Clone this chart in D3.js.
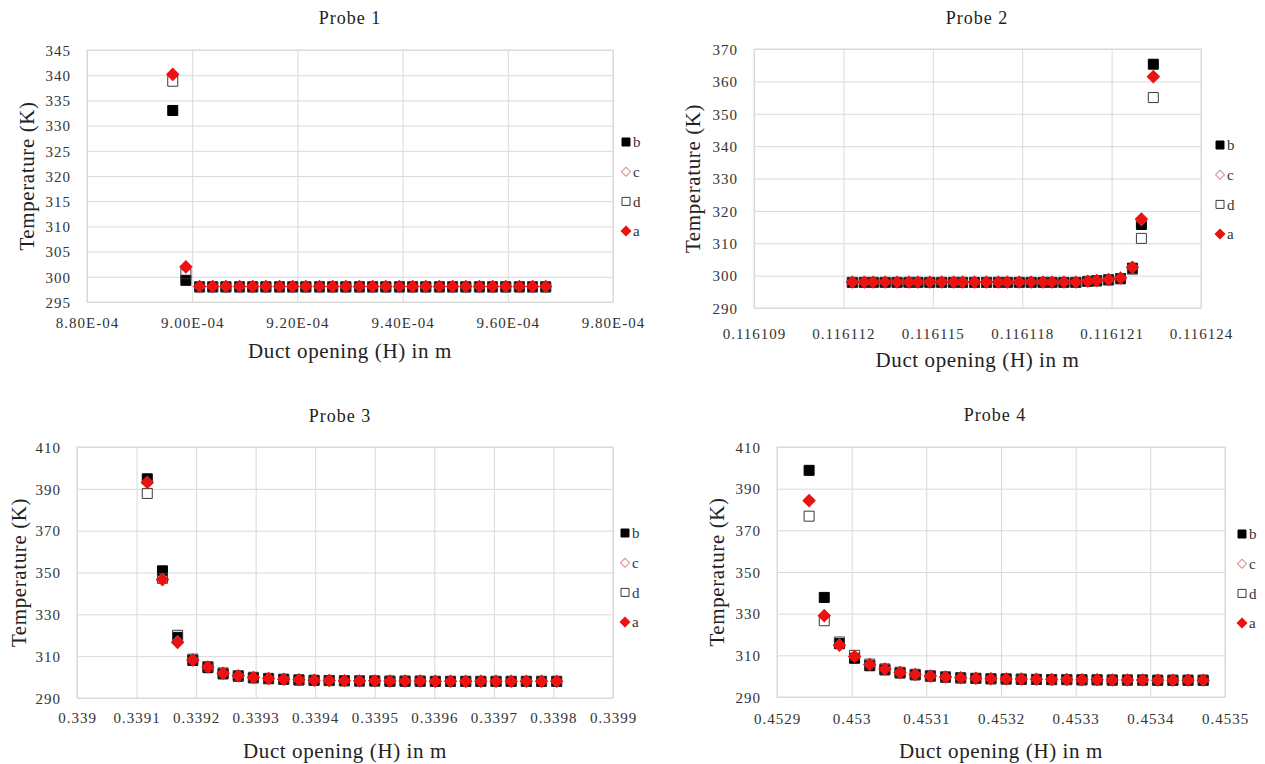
<!DOCTYPE html>
<html>
<head>
<meta charset="utf-8">
<script src="https://cdn.jsdelivr.net/npm/d3@7"></script>
<style>
  *{box-sizing: border-box;}
  body{ margin: 0; padding: 0; background: #fff; }
  svg{ display: block; }
  svg text{ font-family: "Liberation Serif", "DejaVu Serif", serif; }
</style>
</head>
<body>
<svg id="chart" width="1265" height="764"></svg>
<script>
// ---- data ----
const seriesNames = ['b', 'c', 'd', 'a'];

// Probe 1
const p1H = [8.963e-4, 8.988e-4, 9.014e-4, 9.039e-4, 9.064e-4, 9.090e-4, 9.115e-4, 9.140e-4, 9.166e-4, 9.191e-4,
             9.216e-4, 9.242e-4, 9.267e-4, 9.292e-4, 9.318e-4, 9.343e-4, 9.368e-4, 9.394e-4, 9.419e-4, 9.444e-4,
             9.470e-4, 9.495e-4, 9.520e-4, 9.546e-4, 9.571e-4, 9.596e-4, 9.622e-4, 9.647e-4, 9.672e-4];
const p1b = [333.0, 299.3, 298.0, 298.0, 298.0, 298.0, 298.0, 298.0, 298.0, 298.0,
             298.0, 298.0, 298.0, 298.0, 298.0, 298.0, 298.0, 298.0, 298.0, 298.0,
             298.0, 298.0, 298.0, 298.0, 298.0, 298.0, 298.0, 298.0, 298.0];
const p1c = [340.0, 301.8, 298.1, 298.1, 298.1, 298.1, 298.1, 298.1, 298.1, 298.1,
             298.1, 298.1, 298.1, 298.1, 298.1, 298.1, 298.1, 298.1, 298.1, 298.1,
             298.1, 298.1, 298.1, 298.1, 298.1, 298.1, 298.1, 298.1, 298.1];
const p1d = [338.8, 300.6, 298.0, 298.0, 298.0, 298.0, 298.0, 298.0, 298.0, 298.0,
             298.0, 298.0, 298.0, 298.0, 298.0, 298.0, 298.0, 298.0, 298.0, 298.0,
             298.0, 298.0, 298.0, 298.0, 298.0, 298.0, 298.0, 298.0, 298.0];
const p1a = [340.2, 302.0, 298.1, 298.1, 298.1, 298.1, 298.1, 298.1, 298.1, 298.1,
             298.1, 298.1, 298.1, 298.1, 298.1, 298.1, 298.1, 298.1, 298.1, 298.1,
             298.1, 298.1, 298.1, 298.1, 298.1, 298.1, 298.1, 298.1, 298.1];
const p1XTicks = [8.8e-4, 9.0e-4, 9.2e-4, 9.4e-4, 9.6e-4, 9.8e-4];
const p1XLabels = ['8.80E-04', '9.00E-04', '9.20E-04', '9.40E-04', '9.60E-04', '9.80E-04'];
const p1YTicks = [295, 300, 305, 310, 315, 320, 325, 330, 335, 340, 345];

// Probe 2
const p2H = [0.1161123, 0.1161127, 0.1161130, 0.1161134, 0.1161138, 0.1161142, 0.1161145, 0.1161149, 0.1161153, 0.1161157,
             0.1161160, 0.1161164, 0.1161168, 0.1161172, 0.1161175, 0.1161179, 0.1161183, 0.1161187, 0.1161190, 0.1161194,
             0.1161198, 0.1161202, 0.1161205, 0.1161209, 0.1161213, 0.1161217, 0.1161220, 0.1161224];
const p2b = [297.9, 297.9, 297.9, 297.9, 297.9, 297.9, 297.9, 297.9, 297.9, 297.9,
             297.9, 297.9, 297.9, 297.9, 297.9, 297.9, 297.9, 297.9, 297.9, 297.9,
             297.9, 298.2, 298.4, 298.7, 299.1, 302.3, 315.8, 365.3];
const p2c = [298.0, 298.0, 298.0, 298.0, 298.0, 298.0, 298.0, 298.0, 298.0, 298.0,
             298.0, 298.0, 298.0, 298.0, 298.0, 298.0, 298.0, 298.0, 298.0, 298.0,
             298.0, 298.3, 298.5, 298.8, 299.3, 302.5, 317.2, 361.2];
const p2d = [297.9, 297.9, 297.9, 297.9, 297.9, 297.9, 297.9, 297.9, 297.9, 297.9,
             297.9, 297.9, 297.9, 297.9, 297.9, 297.9, 297.9, 297.9, 297.9, 297.9,
             297.9, 298.2, 298.4, 298.7, 299.0, 302.0, 311.5, 355.0];
const p2a = [298.0, 298.0, 298.0, 298.0, 298.0, 298.0, 298.0, 298.0, 298.0, 298.0,
             298.0, 298.0, 298.0, 298.0, 298.0, 298.0, 298.0, 298.0, 298.0, 298.0,
             298.0, 298.3, 298.5, 298.8, 299.3, 302.6, 317.5, 361.5];
const p2XTicks = [0.116109, 0.116112, 0.116115, 0.116118, 0.116121, 0.116124];
const p2XLabels = ['0.116109', '0.116112', '0.116115', '0.116118', '0.116121', '0.116124'];
const p2YTicks = [290, 300, 310, 320, 330, 340, 350, 360, 370];

// Probe 3
const p3H = [0.3391180, 0.3391435, 0.3391689, 0.3391944, 0.3392198, 0.3392453, 0.3392708, 0.3392962, 0.3393217, 0.3393471,
             0.3393726, 0.3393981, 0.3394235, 0.3394490, 0.3394744, 0.3394999, 0.3395254, 0.3395508, 0.3395763, 0.3396017,
             0.3396272, 0.3396527, 0.3396781, 0.3397036, 0.3397290, 0.3397545, 0.3397800, 0.3398054];
const p3b = [394.8, 350.8, 319.0, 308.0, 304.5, 301.5, 300.4, 299.6, 299.2, 298.9,
             298.6, 298.4, 298.3, 298.2, 298.1, 298.1, 298.0, 298.0, 298.0, 297.9,
             297.9, 297.9, 297.9, 297.9, 297.9, 297.9, 297.9, 297.9];
const p3c = [393.2, 347.0, 317.0, 308.2, 304.8, 301.8, 300.6, 299.8, 299.3, 299.0,
             298.7, 298.5, 298.4, 298.3, 298.2, 298.2, 298.1, 298.1, 298.1, 298.0,
             298.0, 298.0, 298.0, 298.0, 298.0, 298.0, 298.0, 298.0];
const p3d = [387.8, 347.2, 320.0, 308.6, 305.0, 302.0, 300.7, 299.9, 299.4, 299.0,
             298.7, 298.5, 298.4, 298.3, 298.2, 298.2, 298.1, 298.1, 298.1, 298.0,
             298.0, 298.0, 298.0, 298.0, 298.0, 298.0, 298.0, 298.0];
const p3a = [393.0, 346.5, 316.5, 308.2, 304.8, 301.8, 300.6, 299.8, 299.3, 299.0,
             298.7, 298.5, 298.4, 298.3, 298.2, 298.2, 298.1, 298.1, 298.1, 298.0,
             298.0, 298.0, 298.0, 298.0, 298.0, 298.0, 298.0, 298.0];
const p3XTicks = [0.3390, 0.3391, 0.3392, 0.3393, 0.3394, 0.3395, 0.3396, 0.3397, 0.3398, 0.3399];
const p3XLabels = ['0.339', '0.3391', '0.3392', '0.3393', '0.3394', '0.3395', '0.3396', '0.3397', '0.3398', '0.3399'];
const p3YTicks = [290, 310, 330, 350, 370, 390, 410];

// Probe 4
const p4H = [0.4529430, 0.4529633, 0.4529836, 0.4530039, 0.4530242, 0.4530445, 0.4530648, 0.4530851, 0.4531054, 0.4531257,
             0.4531460, 0.4531663, 0.4531866, 0.4532069, 0.4532272, 0.4532475, 0.4532678, 0.4532881, 0.4533084, 0.4533287,
             0.4533490, 0.4533693, 0.4533896, 0.4534099, 0.4534302, 0.4534505, 0.4534708];
const p4b = [398.8, 337.8, 315.6, 308.6, 305.0, 303.0, 301.5, 300.6, 300.0, 299.5,
             299.1, 298.9, 298.7, 298.6, 298.5, 298.4, 298.3, 298.3, 298.2, 298.2,
             298.1, 298.1, 298.1, 298.0, 298.0, 298.0, 298.0];
const p4c = [384.0, 329.3, 315.0, 309.6, 305.6, 303.4, 301.8, 300.8, 300.1, 299.6,
             299.2, 299.0, 298.8, 298.7, 298.6, 298.5, 298.4, 298.4, 298.3, 298.3,
             298.2, 298.2, 298.2, 298.1, 298.1, 298.1, 298.1];
const p4d = [376.8, 326.6, 316.4, 310.0, 305.8, 303.5, 301.9, 300.9, 300.2, 299.7,
             299.3, 299.0, 298.8, 298.7, 298.6, 298.5, 298.4, 298.4, 298.3, 298.3,
             298.2, 298.2, 298.2, 298.1, 298.1, 298.1, 298.1];
const p4a = [384.3, 329.0, 314.8, 309.5, 305.6, 303.4, 301.8, 300.8, 300.1, 299.6,
             299.2, 299.0, 298.8, 298.7, 298.6, 298.5, 298.4, 298.4, 298.3, 298.3,
             298.2, 298.2, 298.2, 298.1, 298.1, 298.1, 298.1];
const p4XTicks = [0.4529, 0.4530, 0.4531, 0.4532, 0.4533, 0.4534, 0.4535];
const p4XLabels = ['0.4529', '0.453', '0.4531', '0.4532', '0.4533', '0.4534', '0.4535'];
const p4YTicks = [290, 310, 330, 350, 370, 390, 410];

// ---- layout / style ----
const panels = [
  { title: 'Probe 1', H: p1H, vals: { b: p1b, c: p1c, d: p1d, a: p1a }, xt: p1XTicks, xl: p1XLabels, yt: p1YTicks,
    box: { l: 87, t: 50, r: 613, b: 302 }, titleY: 24, titleX: 350, xTickPad: 15, xTitleY: 358, yTitleX: 27, leg: [626, 142] },
  { title: 'Probe 2', H: p2H, vals: { b: p2b, c: p2c, d: p2d, a: p2a }, xt: p2XTicks, xl: p2XLabels, yt: p2YTicks,
    box: { l: 754, t: 49, r: 1201, b: 308 }, titleY: 24, titleX: 977, xTickPad: 20, xTitleY: 367, yTitleX: 693, leg: [1220, 145] },
  { title: 'Probe 3', H: p3H, vals: { b: p3b, c: p3c, d: p3d, a: p3a }, xt: p3XTicks, xl: p3XLabels, yt: p3YTicks,
    box: { l: 77, t: 447, r: 613, b: 698 }, titleY: 422, titleX: 340, xTickPad: 14, xTitleY: 758, yTitleX: 19, leg: [625, 533] },
  { title: 'Probe 4', H: p4H, vals: { b: p4b, c: p4c, d: p4d, a: p4a }, xt: p4XTicks, xl: p4XLabels, yt: p4YTicks,
    box: { l: 777, t: 447, r: 1225, b: 697 }, titleY: 421, titleX: 995, xTickPad: 16, xTitleY: 758, yTitleX: 717, leg: [1242, 534] }
];

const markers = {
  b: { shape: 'square', size: 10, fill: '#000', stroke: '#000' },
  c: { shape: 'diamond', size: 8, fill: 'none', stroke: '#d98c8c' },
  d: { shape: 'square', size: 10, fill: 'none', stroke: '#3a3a3a' },
  a: { shape: 'diamond', size: 8.5, fill: '#ee1111', stroke: '#ee1111' }
};
const gridColor = '#d9d9d9';
const serif = '"Liberation Serif", "DejaVu Serif", serif';

const svg = d3.select('#chart');

function symbolPath(m, scale) {
  let s = m.size * scale;
  return d3.symbol(d3.symbolSquare, s * s)();
}

panels.forEach(p => {
  let { l, t, r, b } = p.box;
  let x = d3.scaleLinear().domain([p.xt[0], p.xt[p.xt.length - 1]]).range([l, r]);
  let y = d3.scaleLinear().domain([p.yt[0], p.yt[p.yt.length - 1]]).range([b, t]);
  let g = svg.append('g');

  // gridlines + tick labels
  let gy = g.append('g')
    .attr('transform', `translate(${l},0)`)
    .call(d3.axisLeft(y).tickValues(p.yt).tickSize(-(r - l)).tickPadding(16));
  let gx = g.append('g')
    .attr('transform', `translate(0,${b})`)
    .call(d3.axisBottom(x).tickValues(p.xt).tickSize(-(b - t)).tickPadding(p.xTickPad)
      .tickFormat((d, i) => p.xl[i]));
  [gy, gx].forEach(a => {
    a.attr('font-family', serif);
    a.select('.domain').remove();
    a.selectAll('line').attr('stroke', gridColor);
    a.selectAll('text')
      .style('font-family', serif)
      .attr('font-size', 15)
      .attr('letter-spacing', 1)
      .attr('fill', '#333');
  });
  gy.selectAll('text').attr('dy', '0.35em');

  g.append('rect')
    .attr('x', l).attr('y', t).attr('width', r - l).attr('height', b - t)
    .attr('fill', 'none').attr('stroke', gridColor);

  // points
  seriesNames.forEach(name => {
    let m = markers[name];
    let pts = p.H.map((h, i) => [h, p.vals[name][i]]);
    g.append('g').selectAll('path')
      .data(pts)
      .enter()
      .append('path')
        .attr('d', symbolPath(m, 1))
        .attr('transform', d => `translate(${x(d[0])},${y(d[1])})` + (m.shape === 'diamond' ? ' rotate(45)' : ''))
        .attr('fill', m.fill)
        .attr('stroke', m.stroke)
        .attr('stroke-width', 1);
  });

  // titles
  g.append('text')
    .attr('x', p.titleX).attr('y', p.titleY)
    .attr('text-anchor', 'middle')
    .style('font-family', serif)
    .attr('font-size', 18).attr('letter-spacing', 1)
    .attr('fill', '#222')
    .text(p.title);
  g.append('text')
    .attr('x', (l + r) / 2).attr('y', p.xTitleY)
    .attr('text-anchor', 'middle')
    .style('font-family', serif)
    .attr('font-size', 21).attr('letter-spacing', 0.6)
    .attr('fill', '#222')
    .text('Duct opening (H) in m');
  g.append('text')
    .attr('transform', `translate(${p.yTitleX},${(t + b) / 2}) rotate(-90)`)
    .attr('text-anchor', 'middle')
    .attr('dominant-baseline', 'central')
    .style('font-family', serif)
    .attr('font-size', 21).attr('letter-spacing', 0.6)
    .attr('fill', '#222')
    .text('Temperature (K)');

  // legend
  let leg = g.append('g').attr('transform', `translate(${p.leg[0]},${p.leg[1]})`);
  seriesNames.forEach((name, i) => {
    let m = markers[name];
    let row = leg.append('g').attr('transform', `translate(0,${i * 29.7})`);
    row.append('path')
      .attr('d', symbolPath(m, 0.8))
      .attr('transform', m.shape === 'diamond' ? 'rotate(45)' : null)
      .attr('fill', m.fill)
      .attr('stroke', m.stroke);
    row.append('text')
      .attr('x', 7).attr('y', 0)
      .attr('dy', '0.35em')
      .style('font-family', serif)
      .attr('font-size', 15)
      .attr('fill', '#333')
      .text(name);
  });
});
</script>
</body>
</html>
